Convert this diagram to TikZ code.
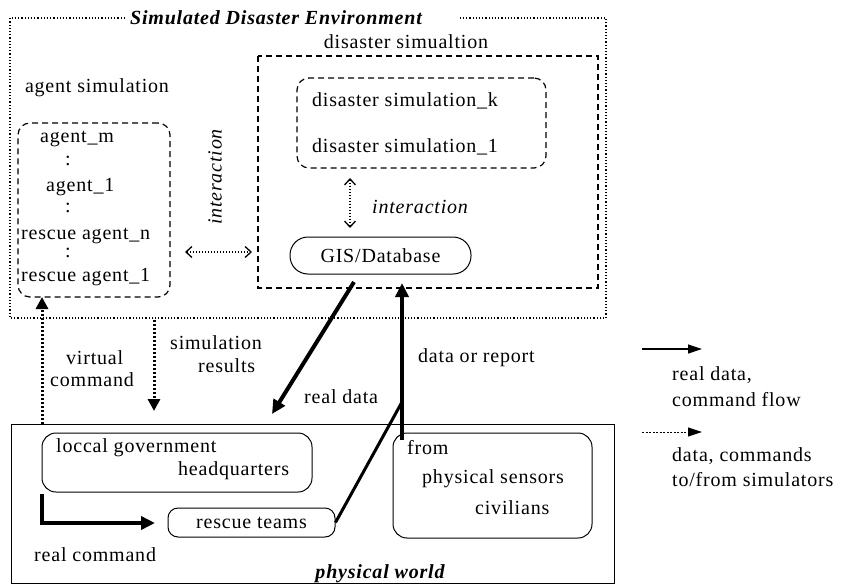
\documentclass[tikz,border=0pt]{standalone}
\usepackage{fontspec}
\setmainfont{Liberation Serif}[LetterSpace=4]
\usetikzlibrary{arrows.meta}
\begin{document}
\begin{tikzpicture}[x=1pt,y=-1pt,
  every node/.style={inner sep=0pt,font=\fontsize{20}{24}\selectfont},
  lbl/.style={anchor=west},
  ttl/.style={font=\fontsize{20}{24}\selectfont\bfseries\itshape},
  dbox/.style={draw,line width=1.2pt,dash pattern=on 6pt off 4pt},
  rbox/.style={draw,line width=1pt,rounded corners=14pt},
  dotbox/.style={draw,line width=1.2pt,dash pattern=on 1.2pt off 2pt},
  thickarrow/.style={line width=4pt,-{Triangle[length=14pt,width=13pt]}},
  thickdot/.style={line width=3pt,dash pattern=on 2pt off 2pt,-{Triangle[length=12pt,width=12pt]}},
  interarrow/.style={line width=1.3pt,dash pattern=on 1.5pt off 1.5pt,{Straight Barb[length=6pt,width=11pt]}-{Straight Barb[length=6pt,width=11pt]}}
]
\useasboundingbox (0,0) rectangle (842,586);
% outer simulated environment
\draw[dotbox] (125,18) -- (10,18) -- (10,318) -- (606,318) -- (606,18) -- (460,18);
\node[ttl] (title) at (276,18) {Simulated Disaster Environment};
% disaster simulation
\node (dslabel) at (406,42) {disaster simualtion};
\draw[dbox] (258,56) rectangle (598,288);
\node[dbox,rounded corners=12pt,minimum width=249pt,minimum height=90pt] (inner) at (421.5,123) {};
\node[lbl] (dsk) at (312,101) {disaster simulation\_k};
\node[lbl] (ds1) at (312,147) {disaster simulation\_1};
\node[rbox,rounded corners=18pt,minimum width=181pt,minimum height=37pt] (gis) at (380.5,255.5) {GIS/Database};
\coordinate (ia) at (350,178);
\coordinate (ib) at (350,228);
\draw[interarrow] (ia) -- (ib);
\node[lbl,font=\fontsize{20}{24}\selectfont\itshape] (inter1) at (372,207) {interaction};
% agent simulation
\node (aglabel) at (97,88) {agent simulation};
\node[dbox,rounded corners=12pt,minimum width=152pt,minimum height=174pt] (agents) at (94,210) {};
\node[lbl] (am) at (40,139) {agent\_m};
\node (d1) at (68,161) {:};
\node[lbl] (a1) at (46,187) {agent\_1};
\node (d2) at (68,208) {:};
\node[lbl] (ran) at (21,236) {rescue agent\_n};
\node (d3) at (68,253) {:};
\node[lbl] (ra1) at (21,277) {rescue agent\_1};
\node[rotate=90,font=\fontsize{20}{24}\selectfont\itshape] (inter2) at (215,177) {interaction};
\coordinate (ha) at (185,252);
\coordinate (hb) at (252,252);
\draw[interarrow] (ha) -- (hb);
% physical world
\draw[line width=1pt] (11,424) rectangle (614,583);
\node[ttl,anchor=base] (pw) at (380,578) {physical world};
\node[rbox,minimum width=270pt,minimum height=59pt] (gov) at (177,462.5) {};
\node[lbl] (gov1) at (56,448) {loccal government};
\node[lbl] (gov2) at (178,471) {headquarters};
\node[rbox,rounded corners=10pt,minimum width=167pt,minimum height=29pt] (rescue) at (251.5,522.5) {rescue teams};
\node[rbox,minimum width=199pt,minimum height=105pt] (from) at (492.5,485.5) {};
\node[lbl] (fr1) at (407,448) {from};
\node[lbl] (fr2) at (422,479) {physical sensors};
\node[lbl] (fr3) at (475,508) {civilians};
% connectors between worlds
\coordinate (vcA) at (42,424);
\coordinate (vcB) at (42,297);
\draw[thickdot] (vcA) -- (vcB);
\node[lbl] (vc1) at (66,358) {virtual};
\node[lbl] (vc2) at (50,380) {command};
\coordinate (srA) at (154,320);
\coordinate (srB) at (154,411);
\draw[thickdot] (srA) -- (srB);
\node[lbl] (sr1) at (170,343) {simulation};
\node[lbl] (sr2) at (198,366) {results};
\coordinate (rdA) at (354,282);
\coordinate (rdB) at (272,414);
\draw[thickarrow] (rdA) -- (rdB);
\node[lbl] (rdl) at (304,397) {real data};
\coordinate (drA) at (402,440);
\coordinate (drB) at (402,283);
\coordinate (join) at (402,402);
\draw[thickarrow] (drA) -- (drB);
\node[lbl] (drl) at (418,358) {data or report};
\draw[line width=3pt] (rescue.east) -- (join);
\coordinate (rcA) at (42,494);
\coordinate (rcB) at (155,523);
\draw[line width=4pt,-{Triangle[length=14pt,width=13pt]}] (rcA) |- (rcB);
\node[lbl] (rcl) at (34,555) {real command};
% legend
\coordinate (l1a) at (642,349);
\coordinate (l1b) at (702,349);
\draw[line width=1.2pt,-{Triangle[length=14pt,width=9pt]}] (l1a) -- (l1b);
\node[lbl] (lg1) at (672,375) {real data,};
\node[lbl] (lg2) at (672,400) {command flow};
\coordinate (l2a) at (642,432);
\coordinate (l2b) at (702,432);
\draw[line width=1pt,dash pattern=on 2pt off 1.5pt,-{Triangle[length=14pt,width=9pt]}] (l2a) -- (l2b);
\node[lbl] (lg3) at (672,456) {data, commands};
\node[lbl] (lg4) at (672,480) {to/from simulators};
\end{tikzpicture}
\end{document}
